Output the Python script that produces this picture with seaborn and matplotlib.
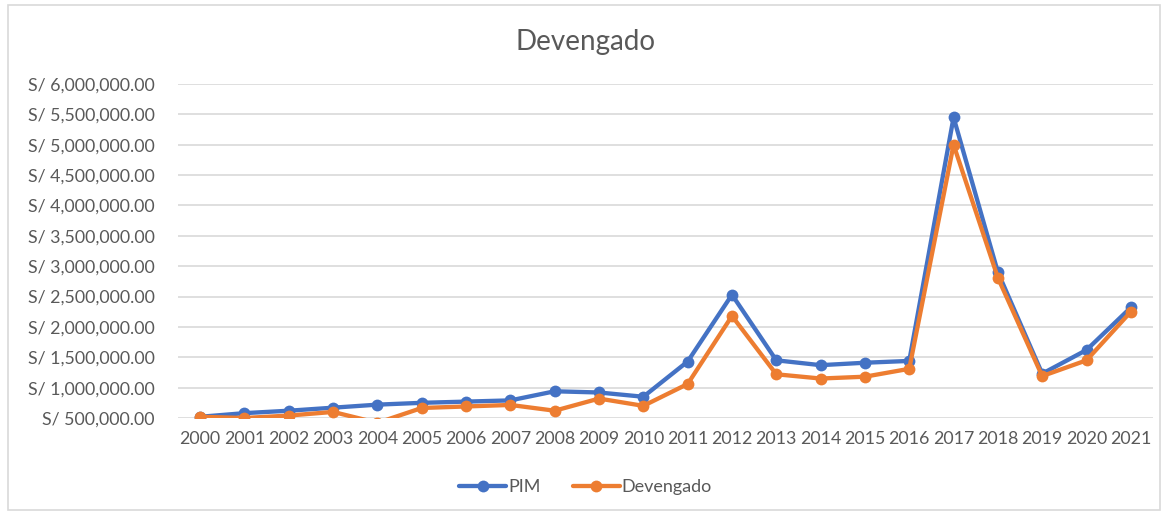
import pandas as pd
import matplotlib
matplotlib.use('Agg')
import matplotlib.pyplot as plt
import seaborn as sns
from matplotlib.patches import Rectangle
from matplotlib.ticker import FuncFormatter, MultipleLocator

years = [str(y) for y in range(2000, 2022)]
pim = [520000, 580000, 620000, 670000, 720000, 750000, 770000, 790000, 940000, 920000, 850000,
       1430000, 2530000, 1450000, 1370000, 1410000, 1440000, 5450000, 2900000, 1230000, 1620000, 2320000]
devengado = [520000, 500000, 540000, 600000, 420000, 665000, 690000, 715000, 620000, 820000, 700000,
             1060000, 2180000, 1220000, 1150000, 1180000, 1310000, 5000000, 2810000, 1190000, 1450000, 2250000]
series = ['PIM', 'Devengado']
colors = ['#4472C4', '#ED7D31']

df = pd.DataFrame({'year': years * 2,
                   'value': pim + devengado,
                   'series': ['PIM'] * len(years) + ['Devengado'] * len(years)})

sns.set_style('white')
plt.rcParams['font.family'] = ['Lato', 'DejaVu Sans']
txt = '#595959'

fig = plt.figure(figsize=(11.71, 5.12), dpi=100)
fig.patches.append(Rectangle((8 / 1171, 2 / 512), 1152 / 1171, 505 / 512, transform=fig.transFigure,
                             fill=False, edgecolor='#D9D9D9', linewidth=1.2))
ax = fig.add_axes([178 / 1171, 1 - 418 / 512, 975 / 1171, 334 / 512])

sns.lineplot(data=df, x='year', y='value', hue='series', hue_order=series,
             palette=colors, marker='o', markersize=8.5, markeredgewidth=0,
             linewidth=3.1, ax=ax, legend=False, sort=False)

ax.set_xlim(-0.5, len(years) - 0.5)
ax.set_ylim(500000, 6000000)
ax.yaxis.set_major_locator(MultipleLocator(500000))
ax.yaxis.set_major_formatter(FuncFormatter(lambda v, p: f"S/ {v:,.2f}"))
ax.grid(axis='y', color='#D9D9D9', linewidth=1.2)
ax.set_axisbelow(True)
for s in ax.spines.values():
    s.set_visible(False)
ax.tick_params(axis='y', length=0, pad=17, labelsize=12.8, labelcolor=txt)
ax.tick_params(axis='x', length=0, pad=9, labelsize=12.8, labelcolor=txt)
ax.set_xlabel('')
ax.set_ylabel('')

fig.text(0.5, 1 - 42 / 512, 'Devengado', ha='center', va='center', fontsize=20, color=txt)

handles = [plt.Line2D([], [], color=c, linewidth=3.1, marker='o', markersize=8.5, markeredgewidth=0)
           for c in colors]
fig.legend(handles, series, loc='center', bbox_to_anchor=(0.5, 1 - 487 / 512), ncol=2,
           frameon=False, fontsize=13, labelcolor=txt, handlelength=2.6, handletextpad=0.1,
           columnspacing=1.8)

fig.savefig('out.png', dpi=100)
